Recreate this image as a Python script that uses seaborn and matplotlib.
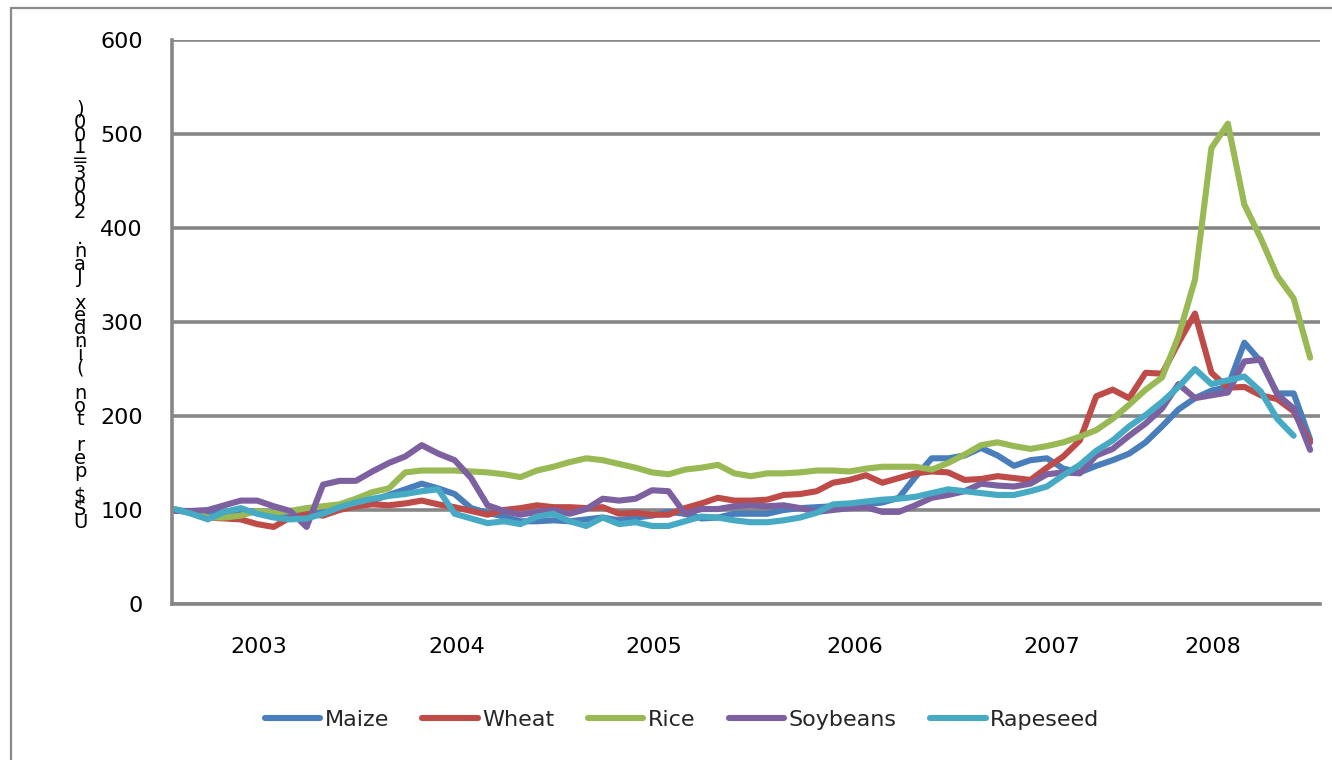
import numpy as np
import pandas as pd
import seaborn as sns
import matplotlib.pyplot as plt
from matplotlib.lines import Line2D

# Monthly price indices, Jan 2003 = 100
maize = [100, 98, 96, 97, 99, 98, 96, 94, 95, 98, 101, 104,
         110, 116, 122, 128, 123, 117, 102, 97, 93, 88, 88, 89,
         88, 90, 92, 89, 92, 94, 98, 96, 91, 92, 96, 96,
         96, 100, 102, 103, 104, 105, 106, 108, 113, 135, 155, 155,
         158, 166, 158, 147, 153, 155, 144, 140, 147, 153, 160, 172,
         189, 207, 219, 227, 231, 278, 258, 224, 224, 175]
wheat = [100, 97, 92, 91, 90, 85, 82, 92, 96, 94, 100, 104,
         106, 105, 107, 110, 106, 103, 99, 95, 100, 102, 105, 103,
         103, 102, 103, 96, 97, 95, 95, 102, 107, 113, 110, 110,
         111, 116, 117, 120, 129, 132, 137, 129, 134, 139, 141, 140,
         132, 133, 136, 134, 132, 145, 157, 174, 221, 228, 219, 246,
         245, 278, 309, 246, 230, 231, 222, 218, 205, 172]
rice = [100, 97, 92, 92, 94, 99, 97, 99, 102, 104, 106, 112,
        119, 123, 140, 142, 142, 142, 141, 140, 138, 135, 142, 146,
        151, 155, 153, 149, 145, 140, 138, 143, 145, 148, 139, 136,
        139, 139, 140, 142, 142, 141, 144, 146, 146, 146, 143, 150,
        159, 169, 172, 168, 165, 168, 172, 178, 185, 197, 212, 228,
        241, 285, 345, 485, 511, 425, 389, 349, 325, 262]
soybeans = [99, 99, 100, 105, 110, 110, 104, 99, 82, 127, 131, 131,
            141, 150, 157, 169, 160, 153, 134, 105, 99, 95, 98, 100,
            96, 101, 112, 110, 112, 121, 120, 96, 101, 101, 104, 105,
            104, 105, 102, 98, 100, 102, 103, 98, 98, 105, 113, 116,
            120, 128, 126, 125, 128, 138, 140, 139, 158, 165, 179, 192,
            208, 234, 219, 222, 225, 258, 260, 223, 208, 164]
rapeseed = [101, 96, 90, 98, 102, 96, 92, 90, 91, 96, 103, 108,
            112, 115, 117, 120, 122, 96, 91, 86, 88, 85, 93, 96,
            88, 83, 92, 85, 87, 83, 83, 88, 93, 92, 89, 87,
            87, 89, 92, 97, 106, 107, 109, 111, 112, 114, 118, 122,
            120, 118, 116, 116, 120, 125, 137, 148, 163, 174, 189, 201,
            215, 231, 250, 234, 238, 242, 226, 197, 179, np.nan]

series_names = ["Maize", "Wheat", "Rice", "Soybeans", "Rapeseed"]
series_colors = ["#4A7EBB", "#BE4B48", "#98B954", "#7D60A0", "#46AAC5"]

year_labels = ["2003", "2004", "2005", "2006", "2007", "2008"]
year_label_pos = [5.1, 17.1, 29.1, 41.3, 53.3, 63.1]

y_ticks = [0, 100, 200, 300, 400, 500, 600]
y_title = "US$ per ton (index Jan. 2003=100)"

# long-form table for seaborn
frames = []
for name, vals in zip(series_names, [maize, wheat, rice, soybeans, rapeseed]):
    frames.append(pd.DataFrame({"month": np.arange(len(vals)),
                                "index": vals, "crop": name}))
df = pd.concat(frames, ignore_index=True).dropna()

sns.set_theme(style="white")
plt.rcParams["font.family"] = ["DejaVu Sans"]

W, H = 1332, 760
fig = plt.figure(figsize=(W / 100, H / 100), dpi=100)
ax = fig.add_axes([172 / W, 1 - 604 / H, (1320 - 172) / W, (604 - 40) / H])

grey = "#868686"
ax.set_axisbelow(True)
ax.yaxis.grid(True, color=grey, lw=2.6)
ax.xaxis.grid(False)

sns.lineplot(data=df, x="month", y="index", hue="crop",
             hue_order=series_names,
             palette=dict(zip(series_names, series_colors)),
             estimator=None, lw=4.4, legend=False, ax=ax)

ax.set_xlim(-0.18, 69.6)
ax.set_ylim(0, 600)
ax.set_yticks(y_ticks)
ax.set_xticks(year_label_pos)
ax.set_xticklabels(year_labels)
ax.set_xlabel("")
ax.set_ylabel("")
ax.tick_params(axis="both", length=0, labelsize=16, colors="black")
ax.tick_params(axis="y", pad=21)
ax.tick_params(axis="x", pad=24)

for side in ["top", "right"]:
    ax.spines[side].set_visible(False)
for side in ["left", "bottom"]:
    ax.spines[side].set_color(grey)
    ax.spines[side].set_linewidth(2.6)

# stacked axis title: characters one below another, read upwards
fig.text(80 / W, 1 - 316 / H, "\n".join(list(y_title)[::-1]),
         ha="center", va="center", ma="center", fontsize=14,
         linespacing=0.595, color="black")

# chart area border
fig.add_artist(Line2D([11 / W, 1], [1 - 8 / H, 1 - 8 / H],
                      transform=fig.transFigure, color="#8a8a8a", lw=1.6))
fig.add_artist(Line2D([11 / W, 11 / W], [0, 1 - 8 / H],
                      transform=fig.transFigure, color="#8a8a8a", lw=1.6))

handles = [Line2D([0], [0], color=c, lw=4.4, solid_capstyle="round")
           for c in series_colors]
fig.legend(handles, series_names, loc="center",
           bbox_to_anchor=(682 / W, 1 - 720 / H), ncol=5, frameon=False,
           fontsize=16, handlelength=2.5, handletextpad=0.2,
           columnspacing=1.5)

fig.savefig("out.png", dpi=100)
